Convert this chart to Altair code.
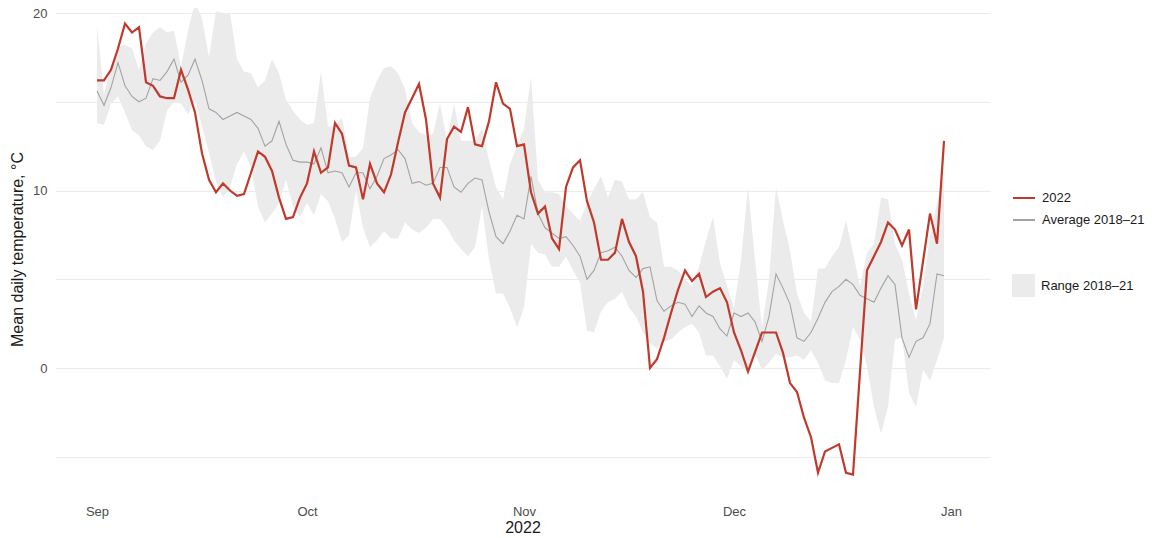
import altair as alt
import pandas as pd

# ---- data ----
dates = pd.date_range("2022-09-01", "2022-12-31", freq="D").strftime("%Y-%m-%dT00:00:00").tolist()

temp_2022 = [
    16.2, 16.2, 16.8, 18.0, 19.4, 18.9, 19.2, 16.1, 15.9, 15.3,
    15.2, 15.2, 16.8, 15.7, 14.4, 12.1, 10.6, 9.9, 10.4, 10.0,
    9.7, 9.8, 11.0, 12.2, 11.9, 11.1, 9.6, 8.4, 8.5, 9.6,
    10.4, 12.2, 11.0, 11.3, 13.8, 13.2, 11.4, 11.3, 9.5, 11.5,
    10.4, 9.9, 10.9, 12.7, 14.4, 15.2, 16.0, 14.0, 10.4, 9.6,
    12.9, 13.6, 13.3, 14.7, 12.6, 12.5, 13.9, 16.1, 14.9, 14.6,
    12.5, 12.6, 9.9, 8.7, 9.1, 7.3, 6.7, 10.2, 11.3, 11.7,
    9.4, 8.2, 6.1, 6.1, 6.5, 8.4, 7.1, 6.3, 4.3, 0.0,
    0.5, 1.7, 3.1, 4.4, 5.5, 4.9, 5.3, 4.0, 4.3, 4.5,
    3.7, 2.0, 1.0, -0.2, 0.9, 2.0, 2.0, 2.0, 0.85, -0.85,
    -1.35, -2.8, -3.9, -5.9, -4.7, -4.5, -4.3, -5.9, -6.0, -0.2,
    5.5, 6.3, 7.1, 8.2, 7.8, 6.9, 7.8, 3.3, 6.0, 8.7,
    7.0, 12.8,
]

avg_2018_21 = [
    15.6, 14.8, 15.8, 17.2, 15.9, 15.3, 15.0, 15.2, 16.3, 16.2,
    16.7, 17.4, 16.1, 16.5, 17.4, 16.2, 14.6, 14.4, 14.0, 14.2,
    14.4, 14.2, 14.0, 13.5, 12.5, 12.8, 13.9, 12.6, 11.7, 11.6,
    11.6, 11.5, 12.4, 11.0, 11.1, 11.0, 10.2, 11.0, 11.0, 10.1,
    10.8, 11.8, 12.0, 12.3, 11.8, 10.4, 10.5, 10.3, 10.4, 11.3,
    11.3, 10.2, 9.9, 10.4, 10.7, 10.6, 8.8, 7.4, 7.0, 7.7,
    8.6, 8.4, 10.8, 8.7, 7.9, 7.6, 7.3, 7.4, 6.9, 6.3,
    5.0, 5.5, 6.5, 6.6, 6.8, 6.3, 5.5, 5.1, 5.6, 5.7,
    3.8, 3.2, 3.5, 3.7, 3.6, 2.9, 3.5, 3.1, 2.9, 2.2,
    1.8, 3.1, 2.9, 3.1, 2.6, 1.5, 2.9, 5.3, 4.5, 3.6,
    1.7, 1.5, 2.0, 2.8, 3.7, 4.3, 4.6, 5.0, 4.7, 4.1,
    3.9, 3.7, 4.5, 5.2, 4.7, 1.7, 0.6, 1.5, 1.7, 2.5,
    5.3, 5.2,
]

range_low = [
    13.8, 13.7, 14.9, 15.3, 14.4, 13.4, 13.1, 12.5, 12.3, 12.8,
    14.5, 15.0, 14.9, 14.3, 15.1, 13.6, 12.1, 10.5, 9.6, 10.2,
    11.5, 12.2, 11.3, 9.1, 8.2, 8.7, 9.3, 10.6, 9.1, 8.5,
    9.3, 8.6, 9.8, 9.4, 8.4, 7.1, 7.5, 10.0, 7.9, 6.8,
    7.2, 7.7, 7.3, 7.3, 8.2, 7.8, 7.6, 7.9, 8.4, 8.4,
    7.9, 7.2, 6.7, 6.3, 6.8, 9.1, 6.1, 4.2, 4.2, 3.4,
    2.3, 3.4, 7.0, 6.5, 6.4, 5.7, 5.7, 6.3, 5.5, 4.8,
    2.1, 2.0, 3.2, 3.7, 3.9, 4.3, 3.4, 2.9, 2.0, 1.4,
    1.1, 1.5, 1.6, 2.0, 2.3, 2.5, 2.0, 0.7, 0.7, 0.1,
    -0.6, 0.45, 0.1, -0.3, 0.8, -0.1, 0.3, 0.8, 0.6, 0.6,
    0.7, 0.45, 1.0, 0.3, -0.7, -0.85, -0.85, 0.45, 2.3, 1.6,
    0.1, -2.2, -3.7, -2.2, 1.6, 1.7, -1.4, -2.2, -0.1, -0.7,
    0.45, 1.7,
]

range_high = [
    19.3, 15.4, 17.0, 18.1, 18.2, 18.0, 16.8, 18.3, 18.9, 19.2,
    18.9, 19.0, 17.0, 19.0, 20.6, 19.7, 17.5, 20.1, 20.0, 20.0,
    17.4, 16.7, 16.6, 15.8, 16.2, 17.4, 16.6, 15.1, 14.5, 14.0,
    13.7, 13.8, 16.7, 13.6, 13.6, 14.1, 11.9, 11.9, 12.4, 15.2,
    16.2, 16.9, 17.0, 16.6, 15.7, 13.8, 13.3, 13.1, 13.2, 14.9,
    12.8, 14.9, 12.8, 12.8, 12.8, 13.5, 11.7, 10.2, 9.5, 11.5,
    12.5, 13.5, 16.4, 10.6, 9.9, 9.9, 9.8, 9.1, 8.7, 8.3,
    9.3, 10.1, 10.8, 9.6, 10.6, 10.5, 9.5, 9.5, 9.9, 8.5,
    8.2, 5.7, 5.7, 5.5, 5.0, 4.6, 5.7, 7.2, 8.5, 5.9,
    4.6, 3.4, 6.1, 10.2, 6.1, 2.3, 5.0, 10.2, 8.3, 6.6,
    4.2, 3.1, 2.6, 5.6, 5.6, 6.3, 6.8, 8.3, 6.5, 4.6,
    6.5, 7.0, 9.6, 9.5, 7.0, 6.1, 4.2, 2.7, 4.6, 7.4,
    9.3, 10.8,
]

y_ticks = [-5, 0, 5, 10, 15, 20]
line_series = ["2022", "Average 2018–21"]
band_series = ["Range 2018–21"]

df = pd.DataFrame({
    "date": dates,
    "t2022": temp_2022,
    "avg": avg_2018_21,
    "lo": range_low,
    "hi": range_high,
})

FONT = "Liberation Sans"
RED = "#c0392b"
GREY = "#a3a3a3"
BAND = "#ebebeb"

x_enc = alt.X(
    "date:T",
    scale=alt.Scale(
        domain=[alt.DateTime(year=2022, month=8, date=26),
                alt.DateTime(year=2023, month=1, date=6, hours=13, minutes=41)],
        nice=False,
    ),
    axis=alt.Axis(
        title="2022", format="%b",
        tickCount=alt.TimeIntervalStep(interval="month", step=1),
        grid=False, ticks=False, domain=False,
        labelPadding=15, titlePadding=1,
    ),
)

y_scale = alt.Scale(domain=[-6.873, 20.282], nice=False, zero=False)
y_axis = alt.Axis(
    title="Mean daily temperature, °C",
    values=y_ticks,
    labelExpr="datum.value % 10 === 0 ? datum.label : ''",
    grid=True, ticks=False, domain=False,
    labelPadding=8, titlePadding=7,
)

base = alt.Chart(df)

band = base.transform_calculate(series="'" + band_series[0] + "'").mark_area(
    clip=True, opacity=1
).encode(
    x=x_enc,
    y=alt.Y("lo:Q", scale=y_scale, axis=y_axis),
    y2="hi:Q",
    fill=alt.Fill(
        "series:N",
        scale=alt.Scale(domain=band_series, range=[BAND]),
        legend=alt.Legend(
            title=None, orient="none", legendX=957, legendY=266,
            symbolType="square", symbolSize=529, symbolStrokeWidth=0,
            symbolOpacity=1,
            labelFontSize=13, labelFont=FONT, labelColor="#1a1a1a",
            labelOffset=6, labelLimit=200,
        ),
    ),
)

color_scale = alt.Scale(domain=line_series, range=[RED, GREY])
color_legend = alt.Legend(
    title=None, orient="none", legendX=957, legendY=178,
    symbolType="stroke", symbolSize=484, symbolStrokeWidth=2,
    labelFontSize=13, labelFont=FONT, labelColor="#1a1a1a",
    labelOffset=6, rowPadding=3, labelLimit=200,
)

avg_line = base.transform_calculate(series="'" + line_series[1] + "'").mark_line(
    clip=True, strokeWidth=1.1
).encode(
    x="date:T",
    y="avg:Q",
    color=alt.Color("series:N", scale=color_scale, legend=color_legend),
)

red_line = base.transform_calculate(series="'" + line_series[0] + "'").mark_line(
    clip=True, strokeWidth=2.2
).encode(
    x="date:T",
    y="t2022:Q",
    color=alt.Color("series:N", scale=color_scale, legend=color_legend),
)

chart = alt.layer(band, avg_line, red_line).properties(
    width=935,
    height=482,
    autosize=alt.AutoSizeParams(type="none"),
    padding={"left": 47, "top": 0, "right": 155, "bottom": 46},
).configure_view(
    stroke=None
).configure_axis(
    labelFont=FONT, titleFont=FONT,
    labelFontSize=13, titleFontSize=16,
    labelColor="#4d4d4d", titleColor="#1a1a1a",
    titleFontWeight="normal",
    gridColor="#ebebeb", gridWidth=1,
)

chart.save("out.html", embed_options={"renderer": "svg", "actions": False})
